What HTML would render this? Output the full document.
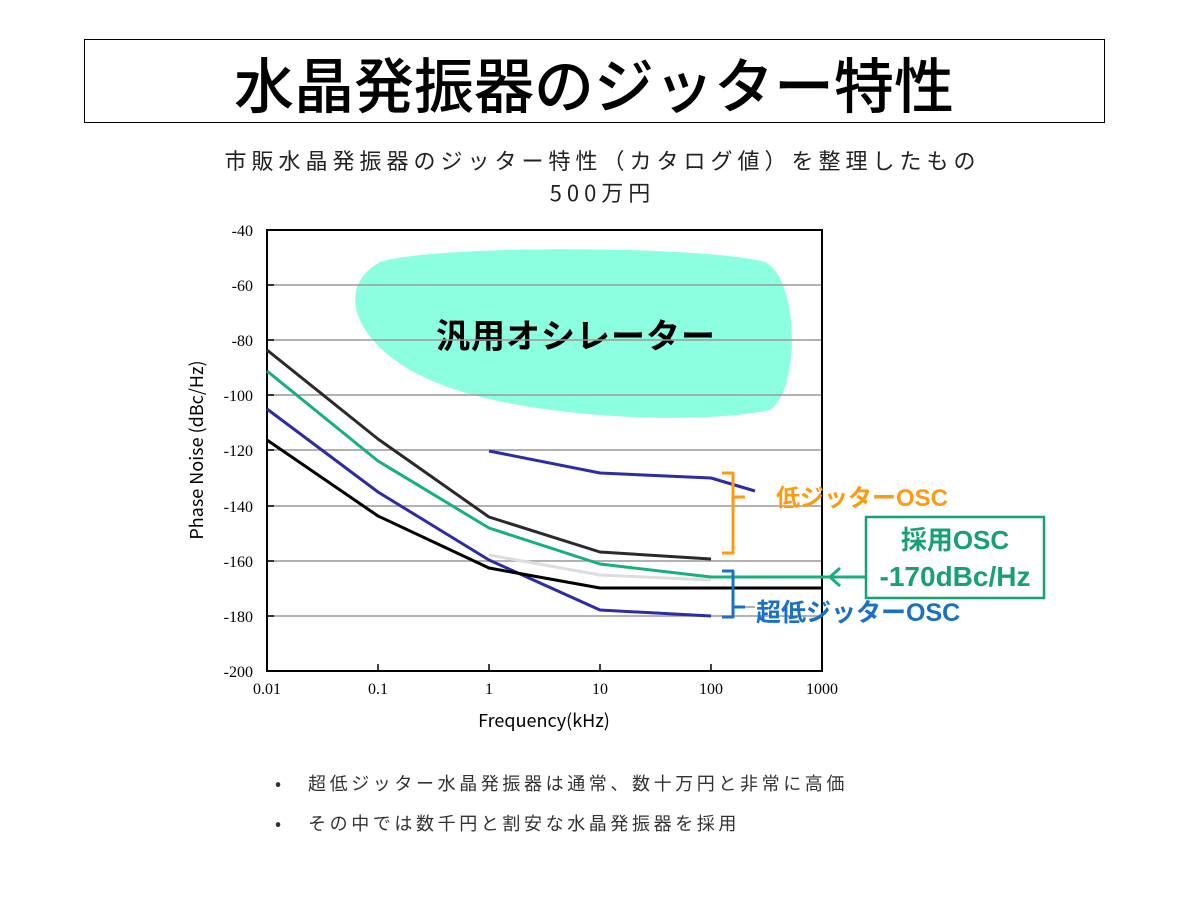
<!DOCTYPE html>
<html><head><meta charset="utf-8"><style>
body{margin:0;width:1200px;height:900px;background:#fff;overflow:hidden;position:relative;font-family:"Liberation Sans","Noto Sans CJK JP",sans-serif;}
.t{position:absolute;white-space:nowrap;}
</style></head><body>
<div style="position:absolute;left:84px;top:39px;width:1019px;height:82px;border:1.5px solid #000;"></div>
<div class="t" style="left:0;width:1188px;text-align:center;top:46px;font-size:60px;line-height:74px;font-weight:500;font-family:'Noto Sans CJK JP',sans-serif;">水晶発振器のジッター特性</div>
<div class="t" style="left:0;width:1205px;text-align:center;top:144px;font-size:22px;line-height:32px;letter-spacing:5px;color:#222;font-family:'Noto Sans CJK JP',sans-serif;">市販水晶発振器のジッター特性（カタログ値）を整理したもの<br>500万円</div>
<svg width="1200" height="900" style="position:absolute;left:0;top:0" font-family="'Liberation Sans','Noto Sans CJK JP',sans-serif">
<path d="M380,262 C430,245 700,245 765,262 C800,280 800,390 770,410 C700,425 520,420 430,380 C360,350 330,290 380,262Z" fill="#8cffe0"/>
<text x="576" y="348" font-size="34" font-weight="bold" text-anchor="middle" font-family="'Noto Sans CJK JP',sans-serif" letter-spacing="1">汎用オシレーター</text>
<g stroke="#999" stroke-width="1.5">
<line x1="267" x2="822" y1="285" y2="285"/><line x1="267" x2="822" y1="340" y2="340"/><line x1="267" x2="822" y1="395" y2="395"/><line x1="267" x2="822" y1="450" y2="450"/><line x1="267" x2="822" y1="506" y2="506"/><line x1="267" x2="822" y1="561" y2="561"/><line x1="267" x2="822" y1="616" y2="616"/>
</g>
<rect x="267" y="230" width="555" height="441" fill="none" stroke="#000" stroke-width="2"/>
<g stroke="#000" stroke-width="1.5">
<line x1="267" x2="274" y1="285" y2="285"/><line x1="267" x2="274" y1="340" y2="340"/><line x1="267" x2="274" y1="395" y2="395"/><line x1="267" x2="274" y1="450" y2="450"/><line x1="267" x2="274" y1="506" y2="506"/><line x1="267" x2="274" y1="561" y2="561"/><line x1="267" x2="274" y1="616" y2="616"/>
<line x1="378" x2="378" y1="671" y2="664"/><line x1="489" x2="489" y1="671" y2="664"/><line x1="600" x2="600" y1="671" y2="664"/><line x1="711" x2="711" y1="671" y2="664"/>
</g>
<g font-family="'Liberation Serif',serif" font-size="16" text-anchor="end">
<text x="253" y="236">-40</text><text x="253" y="291">-60</text><text x="253" y="346">-80</text><text x="253" y="401">-100</text><text x="253" y="456">-120</text><text x="253" y="512">-140</text><text x="253" y="567">-160</text><text x="253" y="622">-180</text><text x="253" y="677">-200</text>
</g>
<g font-family="'Liberation Serif',serif" font-size="16" text-anchor="middle">
<text x="267" y="694">0.01</text><text x="378" y="694">0.1</text><text x="489" y="694">1</text><text x="600" y="694">10</text><text x="711" y="694">100</text><text x="822" y="694">1000</text>
</g>
<text x="544" y="727" font-size="18" text-anchor="middle" font-family="'Noto Sans CJK JP',sans-serif">Frequency(kHz)</text>
<text transform="translate(203,450) rotate(-90)" font-size="18" text-anchor="middle" font-family="'Noto Sans CJK JP',sans-serif">Phase Noise (dBc/Hz)</text>
<g fill="none" stroke-width="3" stroke-linejoin="round">
<polyline stroke="#ddd" points="489,555 600,575 711,580"/>
<polyline stroke="#2a2a2a" points="267,350 378,439 489,517 600,552 711,559"/>
<polyline stroke="#17b07d" points="267,371 378,461 489,528 600,564 711,577 822,577"/>
<polyline stroke="#2c2ca8" points="267,409 378,492 489,560 600,610 711,616"/>
<polyline stroke="#000" points="267,440 378,516 489,568 600,588 822,588"/>
<polyline stroke="#2c2ca8" points="489,451 600,473 711,478 755,491"/>
<path stroke="#ff9a10" d="M722,473 H733 V553 H722 M733,497 H745"/>
<path stroke="#1a70c8" d="M722,571 H733 V617 H722 M733,607 H745"/>
<path stroke="#17b07d" d="M822,577 H866 M840,568 L830,577 L840,586"/>
</g>
<line x1="745" x2="755" y1="607" y2="607" stroke="#999" stroke-width="1.5"/>
<rect x="866" y="517" width="178" height="81" fill="#fff" stroke="#17a070" stroke-width="2.5"/>
<text x="955" y="549" font-size="26" font-weight="bold" fill="#17a070" text-anchor="middle">採用OSC</text>
<text x="955" y="586" font-size="28" font-weight="bold" fill="#17a070" text-anchor="middle">-170dBc/Hz</text>
<text x="776" y="506" font-size="24" font-weight="bold" fill="#ff9a10">低ジッターOSC</text>
<text x="756" y="621" font-size="25" font-weight="bold" fill="#1a70c8">超低ジッターOSC</text>
</svg>
<div class="t" style="left:275px;top:770px;font-size:18px;line-height:26px;color:#333;font-family:'Noto Sans CJK JP',sans-serif;">•<span style="position:absolute;left:33px;letter-spacing:3.6px">超低ジッター水晶発振器は通常、数十万円と非常に高価</span></div>
<div class="t" style="left:275px;top:810px;font-size:18px;line-height:26px;color:#333;font-family:'Noto Sans CJK JP',sans-serif;">•<span style="position:absolute;left:33px;letter-spacing:3.6px">その中では数千円と割安な水晶発振器を採用</span></div>
</body></html>
